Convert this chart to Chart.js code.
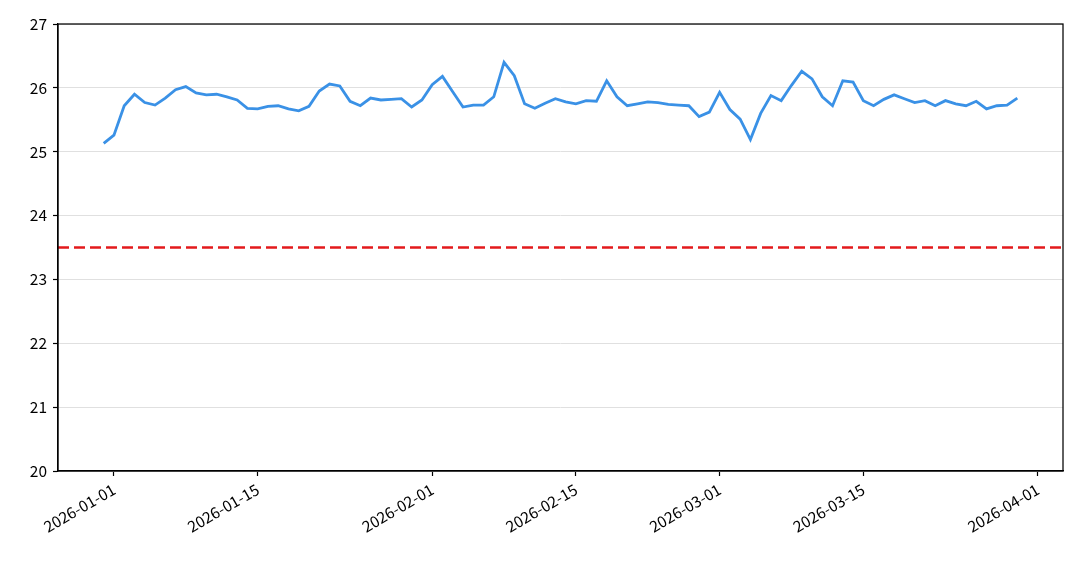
<!DOCTYPE html>
<html>
<head>
<meta charset="utf-8">
<script src="https://cdn.jsdelivr.net/npm/chart.js@4"></script>
<style>
  html, body { margin: 0; padding: 0; background: #ffffff; }
  #wrap { width: 1085px; height: 561px; position: relative; }
</style>
</head>
<body>
<div id="wrap"><canvas id="c" width="1085" height="561"></canvas></div>
<script>
// ---- Data ----
const startDate = "2025-12-31";
const values = [
  25.13,
  // January
  25.26, 25.72, 25.90, 25.77, 25.73, 25.84, 25.97, 26.02, 25.92, 25.89,
  25.90, 25.86, 25.81, 25.68, 25.67, 25.71, 25.72, 25.67, 25.64, 25.71,
  25.95, 26.06, 26.03, 25.79, 25.72, 25.84, 25.81, 25.82, 25.83, 25.70, 25.81,
  // February
  26.05, 26.18, 25.94, 25.70, 25.73, 25.73, 25.86, 26.40, 26.19, 25.75,
  25.68, 25.76, 25.83, 25.78, 25.75, 25.80, 25.79, 26.11, 25.86, 25.72,
  25.75, 25.78, 25.77, 25.74, 25.73, 25.72, 25.55, 25.62,
  // March
  25.93, 25.66, 25.51, 25.19, 25.60, 25.88, 25.80, 26.04, 26.26, 26.14,
  25.86, 25.72, 26.11, 26.09, 25.80, 25.72, 25.82, 25.89, 25.83, 25.77,
  25.80, 25.72, 25.80, 25.75, 25.72, 25.79, 25.67, 25.72, 25.73, 25.84
];
const thresholdValue = 23.5;
const tickDates = ["2026-01-01", "2026-01-15", "2026-02-01", "2026-02-15", "2026-03-01", "2026-03-15", "2026-04-01"];
const yTicks = [20, 21, 22, 23, 24, 25, 26, 27];

// ---- Helpers ----
const DAY = 86400000;
const origin = Date.UTC(2026, 0, 1);
function dayNum(s) {
  const p = s.split("-").map(Number);
  return (Date.UTC(p[0], p[1] - 1, p[2]) - origin) / DAY;
}
const start = dayNum(startDate);
const points = values.map((v, i) => ({ x: start + i, y: v }));
const firstX = points[0].x, lastX = points[points.length - 1].x;
const margin = (lastX - firstX) * 0.05;
const xMin = firstX - margin, xMax = lastX + margin;
const tickNums = tickDates.map(dayNum);
const labelFor = {};
tickDates.forEach((d, i) => { labelFor[tickNums[i]] = d; });

const FONT = "'Noto Sans CJK SC', 'DejaVu Sans', sans-serif";

const framePlugin = {
  id: 'frame',
  afterDraw(chart) {
    const a = chart.chartArea, ctx = chart.ctx;
    ctx.save();
    ctx.strokeStyle = '#000';
    ctx.lineWidth = 1.25;
    ctx.strokeRect(a.left, a.top, a.right - a.left, a.bottom - a.top);
    ctx.restore();
  }
};

new Chart(document.getElementById('c'), {
  type: 'line',
  data: {
    datasets: [
      {
        data: points,
        borderColor: '#3a91e6',
        borderWidth: 2.8,
        pointRadius: 0,
        tension: 0,
        fill: false
      },
      {
        data: [{ x: xMin, y: thresholdValue }, { x: xMax, y: thresholdValue }],
        borderColor: '#e31a1c',
        borderWidth: 2.5,
        borderDash: [11, 5],
        pointRadius: 0,
        fill: false
      }
    ]
  },
  options: {
    responsive: false,
    animation: false,
    layout: { padding: { top: 24, right: 22, left: 0, bottom: 0 } },
    plugins: { legend: { display: false }, tooltip: { enabled: false } },
    scales: {
      x: {
        type: 'linear',
        min: xMin,
        max: xMax,
        afterBuildTicks(scale) { scale.ticks = tickNums.map(v => ({ value: v })); },
        afterFit(scale) { scale.height = 90; },
        ticks: {
          autoSkip: false,
          maxRotation: 30,
          minRotation: 30,
          padding: 4,
          color: '#000',
          font: { family: FONT, size: 15.5 },
          callback: (v) => labelFor[v] || ''
        },
        grid: { display: true, drawOnChartArea: false, tickLength: 5, tickColor: '#000', tickWidth: 1.2 },
        border: { display: true, color: '#000', width: 1.25 }
      },
      y: {
        min: 20,
        max: 27,
        afterBuildTicks(scale) { scale.ticks = yTicks.map(v => ({ value: v })); },
        afterFit(scale) { scale.width = 58; },
        ticks: {
          padding: 6,
          color: '#000',
          font: { family: FONT, size: 15.5 }
        },
        grid: { color: '#e0e0e0', lineWidth: 1, tickLength: 5, tickColor: '#000', tickWidth: 1.2 },
        border: { display: true, color: '#000', width: 1.25 }
      }
    }
  },
  plugins: [framePlugin]
});
</script>
</body>
</html>
